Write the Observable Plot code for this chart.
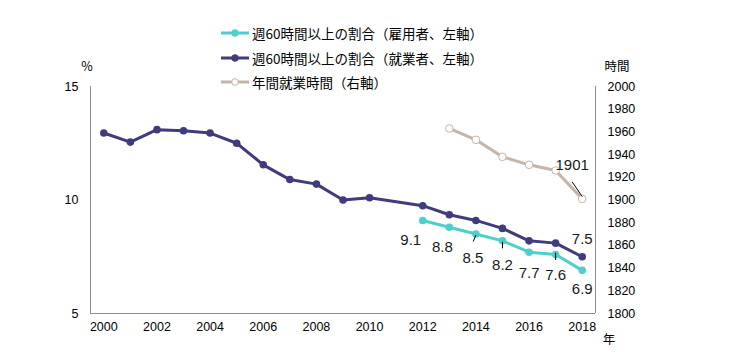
<!DOCTYPE html>
<html><head><meta charset="utf-8">
<script src="https://cdn.jsdelivr.net/npm/d3@7"></script>
<script src="https://cdn.jsdelivr.net/npm/@observablehq/plot@0.6"></script>
<style>
body{margin:0;background:#fff;}
#chart{position:relative;width:750px;height:352px;overflow:hidden;font-family:"Liberation Sans","Noto Sans CJK JP",sans-serif;}
.ann{position:absolute;transform:translate(-50%,-50%);font-family:"Noto Sans CJK JP",sans-serif;font-size:12.5px;color:#000;white-space:nowrap;}
.leg{position:absolute;left:221px;height:16px;display:flex;align-items:center;transform:translateY(-50%);}
.leg span{font-family:"Noto Sans CJK JP",sans-serif;font-size:13.5px;color:#000;margin-left:3px;white-space:nowrap;}
</style>
</head><body><div id="chart"></div>
<script>
// ---- data ----
const workerYears = [2000,2001,2002,2003,2004,2005,2006,2007,2008,2009,2010,2012,2013,2014,2015,2016,2017,2018];
const workerPct   = [12.95,12.55,13.1,13.05,12.95,12.5,11.55,10.9,10.7,10.0,10.1,9.75,9.35,9.1,8.75,8.2,8.1,7.5];
const employeeYears = [2012,2013,2014,2015,2016,2017,2018];
const employeePct   = [9.1,8.8,8.5,8.2,7.7,7.6,6.9];
const hourYears = [2013,2014,2015,2016,2017,2018];
const annualHours = [1963,1953,1938,1931,1926,1901];
const xTicks = [2000,2002,2004,2006,2008,2010,2012,2014,2016,2018];
const leftTicks = [5,10,15];
const rightTicks = [1800,1820,1840,1860,1880,1900,1920,1940,1960,1980,2000];
const seriesNames = ["週60時間以上の割合（雇用者、左軸）","週60時間以上の割合（就業者、左軸）","年間就業時間（右軸）"];
const seriesColors = ["#4fcfcb","#3f3b7d","#c6b4a8"];

// ---- helpers ----
const xDomain = [1999.5, 2018.5];
const yDomain = [5, 15];
const rDomain = [1800, 2000];
const toLeft = h => yDomain[0] + (h - rDomain[0]) / (rDomain[1] - rDomain[0]) * (yDomain[1] - yDomain[0]);
const toRight = v => Math.round(rDomain[0] + (v - yDomain[0]) / (yDomain[1] - yDomain[0]) * (rDomain[1] - rDomain[0]));

const workers = workerYears.map((x,i)=>({x, v: workerPct[i]}));
const employees = employeeYears.map((x,i)=>({x, v: employeePct[i]}));
const hours = hourYears.map((x,i)=>({x, h: annualHours[i], v: toLeft(annualHours[i])}));
const sel = (arr, ys) => arr.filter(d => ys.includes(d.x));
const lastW = workers[workers.length-1];
const lastH = hours[hours.length-1];

const labelFont = {fontSize: 15, fill: "#1a1a1a", fontFamily: "Liberation Sans, Arial, sans-serif"};
const axisColor = "#8c8c8c";

const chart = Plot.plot({
  width: 750, height: 352,
  marginLeft: 90, marginRight: 155, marginTop: 86, marginBottom: 39,
  style: {fontFamily: "Liberation Sans, Arial, sans-serif", fontSize: "12.5px", color: "#000", background: "#fff"},
  x: {domain: xDomain, axis: null},
  y: {domain: yDomain, axis: null},
  marks: [
    Plot.axisX(xTicks, {tickSize: 0, tickPadding: 9, tickFormat: d => String(d), fontSize: 12.5, label: null}),
    Plot.axisY(leftTicks, {anchor: "left", tickSize: 0, tickPadding: 12, fontSize: 12.5, label: null}),
    Plot.axisY(rightTicks.map(toLeft), {anchor: "right", tickSize: 0, tickPadding: 12, fontSize: 12.5, label: null, tickFormat: v => String(toRight(v))}),
    Plot.ruleX(xDomain, {stroke: axisColor, strokeWidth: 1}),
    Plot.ruleY([yDomain[0]], {stroke: axisColor, strokeWidth: 1}),
    // lines
    Plot.line(hours, {x: "x", y: "v", stroke: seriesColors[2], strokeWidth: 3}),
    Plot.dot(hours, {x: "x", y: "v", r: 3.8, fill: "#fff", stroke: seriesColors[2], strokeWidth: 1}),
    Plot.line(workers, {x: "x", y: "v", stroke: seriesColors[1], strokeWidth: 3}),
    Plot.dot(workers, {x: "x", y: "v", r: 3.8, fill: seriesColors[1]}),
    Plot.line(employees, {x: "x", y: "v", stroke: seriesColors[0], strokeWidth: 3}),
    Plot.dot(employees, {x: "x", y: "v", r: 3.8, fill: seriesColors[0]}),
    // leader lines
    Plot.link(sel(employees,[2014]), {x1: "x", y1: d => d.v - 0.04, x2: d => d.x - 0.1, y2: d => d.v - 0.33, stroke: "#000", strokeWidth: 1}),
    Plot.link(sel(employees,[2015]), {x1: "x", y1: d => d.v - 0.04, x2: "x", y2: d => d.v - 0.33, stroke: "#000", strokeWidth: 1}),
    Plot.link(sel(employees,[2017]), {x1: "x", y1: d => d.v + 0.08, x2: "x", y2: d => d.v - 0.24, stroke: "#000", strokeWidth: 1}),
    Plot.link([lastH], {x1: "x", y1: d => d.v + 0.1, x2: d => d.x - 0.38, y2: d => d.v + 0.75, stroke: "#000", strokeWidth: 1}),
    // data labels
    Plot.text(sel(employees,[2012]), {x: "x", y: "v", text: d => d.v.toFixed(1), dx: -12, dy: 20, ...labelFont}),
    Plot.text(sel(employees,[2013]), {x: "x", y: "v", text: d => d.v.toFixed(1), dx: -7, dy: 20, ...labelFont}),
    Plot.text(sel(employees,[2014]), {x: "x", y: "v", text: d => d.v.toFixed(1), dx: -3, dy: 24, ...labelFont}),
    Plot.text(sel(employees,[2015]), {x: "x", y: "v", text: d => d.v.toFixed(1), dy: 24, ...labelFont}),
    Plot.text(sel(employees,[2016,2017]), {x: "x", y: "v", text: d => d.v.toFixed(1), dy: 21, ...labelFont}),
    Plot.text(sel(employees,[2018]), {x: "x", y: "v", text: d => d.v.toFixed(1), dy: 19, ...labelFont}),
    Plot.text([lastW], {x: "x", y: "v", text: d => d.v.toFixed(1), dy: -18, ...labelFont}),
    Plot.text([lastH], {x: "x", y: "v", text: d => String(d.h), dx: -10, dy: -34, ...labelFont})
  ]
});
const root = document.getElementById("chart");
chart.style.position = "absolute"; chart.style.left = "0"; chart.style.top = "0";
root.appendChild(chart);

// axis titles
const titles = [["%", 87, 65], ["時間", 617, 65], ["年", 609, 338]];
for (const [t, x, y] of titles) {
  const d = document.createElement("div");
  d.className = "ann"; d.textContent = t; d.style.left = x + "px"; d.style.top = y + "px";
  root.appendChild(d);
}
// legend
const legendRows = [33, 58, 82];
seriesNames.forEach((name, i) => {
  const row = document.createElement("div");
  row.className = "leg"; row.style.top = legendRows[i] + "px";
  const hollow = i === 2;
  row.innerHTML = `<svg width="28" height="10"><line x1="0" x2="28" y1="5" y2="5" stroke="${seriesColors[i]}" stroke-width="3"/>` +
    `<circle cx="14" cy="5" r="3.3" fill="${hollow ? "#fff" : seriesColors[i]}" stroke="${seriesColors[i]}" stroke-width="1"/></svg><span>${name}</span>`;
  root.appendChild(row);
});
</script>
</body></html>
